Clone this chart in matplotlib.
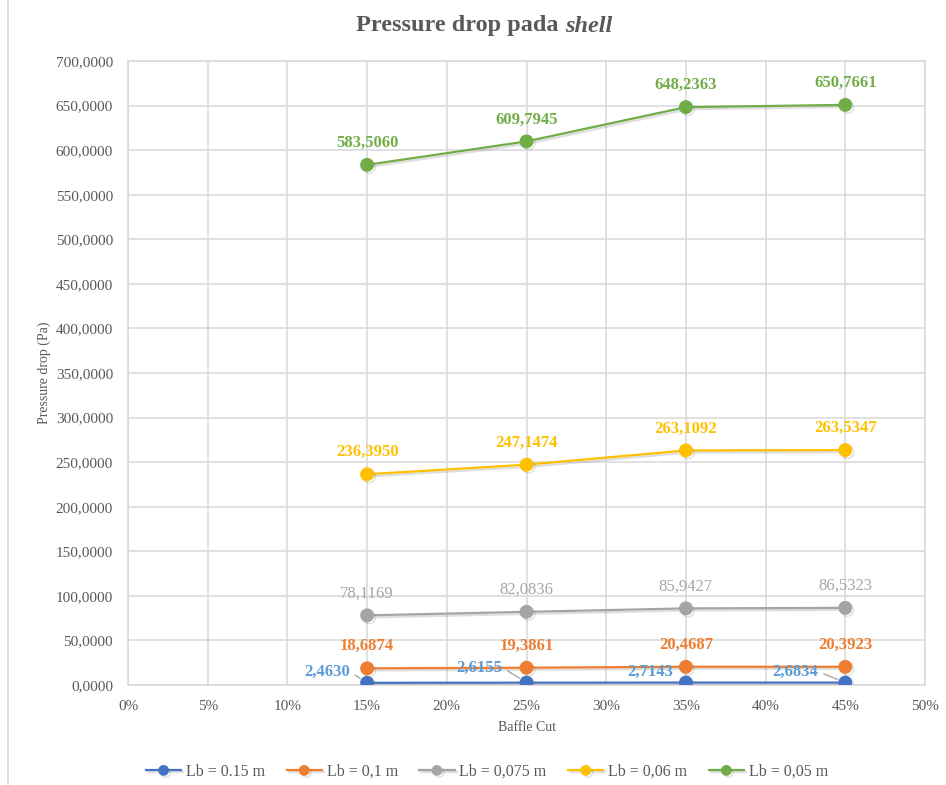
import matplotlib
matplotlib.use("Agg")
import matplotlib.pyplot as plt
import matplotlib.patheffects as pe
from matplotlib.font_manager import FontProperties
from matplotlib.ticker import FuncFormatter, MultipleLocator
from matplotlib.lines import Line2D

# Baffle cut (fraction) and shell-side pressure drop (Pa) for each baffle spacing
baffle_cut = [0.15, 0.25, 0.35, 0.45]
series_names = ["Lb = 0.15 m", "Lb = 0,1 m", "Lb = 0,075 m", "Lb = 0,06 m", "Lb = 0,05 m"]
dp_015 = [2.4630, 2.6155, 2.7143, 2.6834]
dp_010 = [18.6874, 19.3861, 20.4687, 20.3923]
dp_0075 = [78.1169, 82.0836, 85.9427, 86.5323]
dp_006 = [236.3950, 247.1474, 263.1092, 263.5347]
dp_005 = [583.5060, 609.7945, 648.2363, 650.7661]
x_ticks = [0.0, 0.05, 0.10, 0.15, 0.20, 0.25, 0.30, 0.35, 0.40, 0.45, 0.50]

line_colors = ["#4472C4", "#ED7D31", "#A5A5A5", "#FFC000", "#70AD47"]
label_colors = ["#5B9BD5", "#ED7D31", "#A5A5A5", "#FFC000", "#70AD47"]
label_weights = ["bold", "bold", "normal", "bold", "bold"]
all_series = [dp_015, dp_010, dp_0075, dp_006, dp_005]

SERIF = ["Liberation Serif", "DejaVu Serif"]
TXT = "#595959"
GRID = "#D9D9D9"

fig = plt.figure(figsize=(9.46, 7.85), dpi=100)
ax = fig.add_axes([128 / 946, 1 - 685 / 785, (925 - 128) / 946, (685 - 61) / 785])

# chart frame edge on the left
fig.add_artist(Line2D([8 / 946, 8 / 946], [0, 1], transform=fig.transFigure,
                      color=GRID, lw=1.2))

ax.set_xlim(0, 0.5)
ax.set_ylim(0, 700)
ax.set_xticks(x_ticks)
ax.yaxis.set_major_locator(MultipleLocator(50))
ax.xaxis.set_major_formatter(FuncFormatter(lambda v, p: f"{v * 100:.0f}%"))
ax.yaxis.set_major_formatter(FuncFormatter(lambda v, p: f"{v:.4f}".replace(".", ",")))
ax.grid(True, color=GRID, lw=1.1)
ax.set_axisbelow(True)
for s in ax.spines.values():
    s.set_color(GRID)
    s.set_linewidth(1.1)
ax.tick_params(length=0, labelsize=11, labelcolor=TXT)
ax.tick_params(axis="y", pad=10.8)
ax.tick_params(axis="x", pad=11)
for lab in ax.get_xticklabels() + ax.get_yticklabels():
    lab.set_fontfamily(SERIF)

shadow = [pe.SimpleLineShadow(offset=(1.5, -1.5), shadow_color="#7f7f7f", alpha=0.25),
          pe.Normal()]

for name, vals, col in zip(series_names, all_series, line_colors):
    ax.plot(baffle_cut, vals, color=col, lw=1.6, marker="o", ms=9,
            markeredgecolor=col, label=name, path_effects=shadow, zorder=3)

# value labels above markers (all series except the smallest spacing)
for vals, col, w in zip(all_series[1:], label_colors[1:], label_weights[1:]):
    for xv, yv in zip(baffle_cut, vals):
        ax.annotate(f"{yv:.4f}".replace(".", ","), (xv, yv), xytext=(0, 22),
                    textcoords="offset pixels", ha="center", va="center",
                    color=col, fontsize=12, fontweight=w, fontfamily=SERIF, zorder=5)

# Lb = 0.15 m labels sit to the left, with leader lines where they are moved away
blue_offsets = [(-17, 11), (-24, 15), (-13, 11), (-27, 11)]
blue_leader = [True, True, False, True]
for xv, yv, off, lead in zip(baffle_cut, dp_015, blue_offsets, blue_leader):
    arrow = dict(arrowstyle="-", color="#A6A6A6", lw=1.0, shrinkA=2, shrinkB=6,
                 relpos=(1.0, 0.5)) if lead else None
    ax.annotate(f"{yv:.4f}".replace(".", ","), (xv, yv), xytext=off,
                textcoords="offset pixels", ha="right", va="center",
                color=label_colors[0], fontsize=12, fontweight="bold",
                fontfamily=SERIF, arrowprops=arrow, zorder=5)

ax.set_ylabel("Pressure drop (Pa)", fontsize=10, color=TXT, fontfamily=SERIF)
ax.yaxis.set_label_coords((51 - 128) / (925 - 128), 0.5)
ax.set_xlabel("Baffle Cut", fontsize=10, color=TXT, fontfamily=SERIF)
ax.xaxis.set_label_coords(0.5, -(721 - 685) / (685 - 61))

fig.text(565 / 946, 1 - 26 / 785, "Pressure drop pada ", ha="right", va="center",
         fontsize=17.5, fontweight="bold", color=TXT, fontfamily=SERIF)
fig.text(565 / 946, 1 - 26 / 785, "shell", ha="left", va="center",
         fontsize=17.5, fontweight="bold", style="italic", color=TXT, fontfamily=SERIF)

leg = fig.legend(*ax.get_legend_handles_labels(), loc="center",
                 bbox_to_anchor=(487 / 946, 1 - 772 / 785), ncol=5, frameon=False,
                 prop=FontProperties(family="Liberation Serif", size=11.5),
                 handlelength=2.2, handletextpad=0.3, columnspacing=1.35,
                 markerscale=0.75)
for t in leg.get_texts():
    t.set_color(TXT)

fig.savefig("out.png", dpi=100)
